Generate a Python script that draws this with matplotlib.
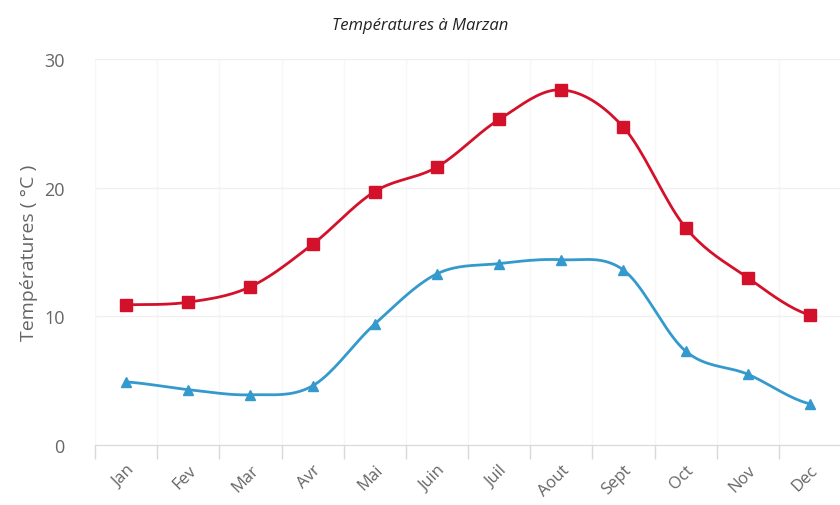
import matplotlib
matplotlib.use("Agg")
import matplotlib.pyplot as plt
import numpy as np

months = ["Jan", "Fev", "Mar", "Avr", "Mai", "Juin", "Juil", "Aout", "Sept", "Oct", "Nov", "Dec"]
t_max = [10.9, 11.1, 12.3, 15.6, 19.7, 21.6, 25.3, 27.6, 24.7, 16.9, 13.0, 10.1]
t_min = [4.9, 4.3, 3.9, 4.6, 9.4, 13.3, 14.1, 14.4, 13.6, 7.3, 5.5, 3.2]

title = "Températures à Marzan"
ylabel = "Températures ( °C )"


def smooth(x, y, n=20, k=0.5):
    # catmull-rom style curve through the points, only for drawing the line
    x = np.asarray(x, float)
    y = np.asarray(y, float)
    xs, ys = [], []
    for i in range(len(x) - 1):
        y0 = y[i - 1] if i > 0 else y[i]
        y3 = y[i + 2] if i + 2 < len(y) else y[i + 1]
        m1 = k * (y[i + 1] - y0)
        m2 = k * (y3 - y[i])
        t = np.linspace(0, 1, n, endpoint=False)
        h00 = 2 * t**3 - 3 * t**2 + 1
        h10 = t**3 - 2 * t**2 + t
        h01 = -2 * t**3 + 3 * t**2
        h11 = t**3 - t**2
        xs.append(x[i] + t * (x[i + 1] - x[i]))
        ys.append(h00 * y[i] + h10 * m1 + h01 * y[i + 1] + h11 * m2)
    xs.append([x[-1]])
    ys.append([y[-1]])
    return np.concatenate(xs), np.concatenate(ys)


red = "#d3112b"
blue = "#3499cd"
grey = "#666666"

fig = plt.figure(figsize=(8.4, 5.06), dpi=100)
ax = fig.add_axes([95 / 840, 60 / 506, 746 / 840, 386 / 506])

pos = np.arange(len(months))
for vals, col, mk, ms in [(t_max, red, "s", 8), (t_min, blue, "^", 7)]:
    sx, sy = smooth(pos, vals)
    ax.plot(sx, sy, color=col, lw=2, zorder=3)
    ax.plot(pos, vals, ls="none", marker=mk, ms=ms, color=col, zorder=4)

ax.set_xlim(-0.5, 11.5)
ax.set_ylim(0, 30)
ax.set_yticks([0, 10, 20, 30])
ax.set_xticks(pos)
ax.set_xticklabels(months, rotation=45, ha="right", rotation_mode="anchor",
                   fontsize=12, color=grey, family="Open Sans")
ax.set_xticks(np.arange(-0.5, 12, 1), minor=True)
ax.tick_params(axis="x", which="major", length=0, pad=12)
ax.tick_params(axis="x", which="minor", length=10, color="#d8d8e0", width=1)
ax.tick_params(axis="y", length=0, pad=22, labelsize=13, labelcolor=grey)
for lab in ax.get_yticklabels():
    lab.set_family("Open Sans")

ax.grid(axis="y", color="#f0f0f0", lw=1)
ax.grid(axis="x", which="minor", color="#f7f7f7", lw=1)
for s in ["top", "right", "left"]:
    ax.spines[s].set_visible(False)
ax.spines["bottom"].set_color("#d8d8e0")

ax.set_ylabel(ylabel, fontsize=14, color=grey, family="Open Sans", labelpad=4)
fig.text(0.5, 1 - 26 / 506, title, ha="center", va="center",
         fontsize=12, style="italic", color="#222222",
         family=["Liberation Sans Narrow", "Open Sans"])

fig.savefig("out.png", dpi=100)
